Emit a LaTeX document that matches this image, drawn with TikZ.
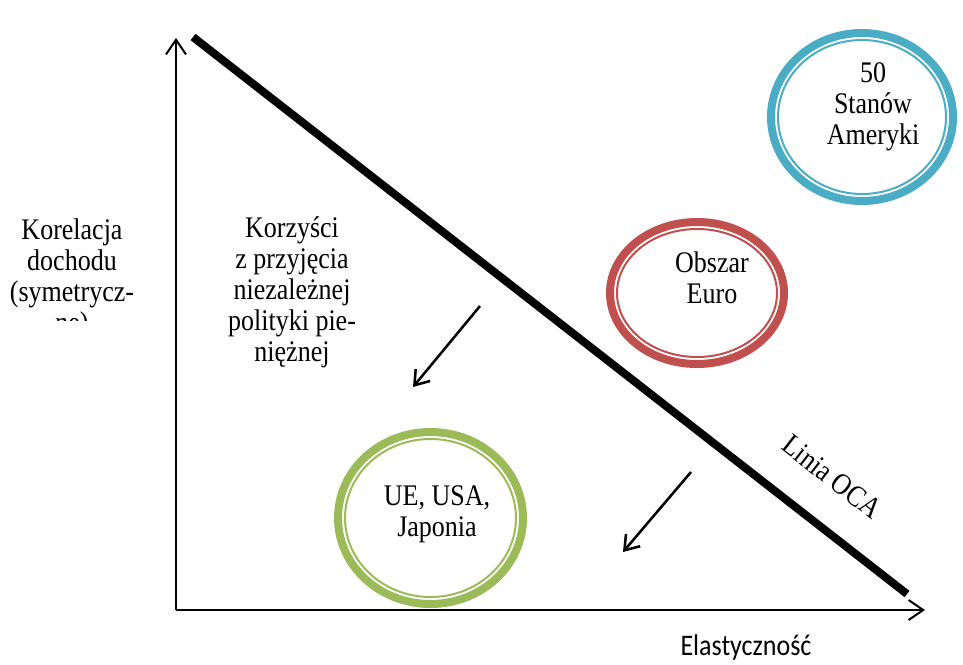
\documentclass[tikz,border=0pt]{standalone}
\usepackage{fontspec}
\usepackage{graphicx}
\setmainfont{Liberation Serif}
\newfontfamily\calibrifont{Carlito}
\usetikzlibrary{arrows.meta,shapes.geometric}
\definecolor{ocablue}{HTML}{4BACC6}
\definecolor{ocared}{HTML}{C0504D}
\definecolor{ocagreen}{HTML}{9BBB59}
\newcommand\mylines[1]{\scalebox{1}[1.15]{\begin{tabular}[t]{@{}c@{}}#1\end{tabular}}}
\newcommand\tallbox[1]{\scalebox{1}[1.15]{#1}}
\begin{document}
\begin{tikzpicture}[x=0.75pt,y=-0.75pt,
  lbl/.style={inner sep=0pt, anchor=base, font=\fontsize{19.5}{20.3}\selectfont},
  axisline/.style={line width=1.5pt, -{Straight Barb[length=11pt,width=15pt,line width=1.5pt]}},
  shiftarrow/.style={line width=1.9pt, -{Straight Barb[length=10pt,width=14pt,line width=1.9pt]}},
  ring/.style={ellipse, draw=#1, line width=6pt, inner sep=0pt},
  thinring/.style={draw=#1, line width=1.5pt}]
\useasboundingbox (0,0) rectangle (963,664);

% axes
\coordinate (O) at (176,610);
\coordinate (ytip) at (176,38);
\coordinate (xtip) at (925,610);
\draw[axisline] (O) -- (ytip);
\draw[axisline] (O) -- (xtip);

% OCA line
\coordinate (ocaA) at (193,37);
\coordinate (ocaB) at (907,594);
\draw[line width=6pt] (ocaA) -- (ocaB);

% circles
\node[ring=ocablue, minimum width=136.5pt, minimum height=126pt] (usa) at (862,117) {};
\draw[thinring=ocablue] (usa.center) ellipse [x radius=63pt, y radius=57.75pt];
\node[ring=ocared, minimum width=130.5pt, minimum height=106.5pt] (euro) at (697,293) {};
\draw[thinring=ocared] (euro.center) ellipse [x radius=60pt, y radius=48pt];
\node[ring=ocagreen, minimum width=138.75pt, minimum height=129pt] (ue) at (430.5,518) {};
\draw[thinring=ocagreen] (ue.center) ellipse [x radius=64.1pt, y radius=59.25pt];

% circle labels
\node[lbl] (usatxt) at (873,82) {\mylines{50\\Stanów\\Ameryki}};
\node[lbl] (eurotxt) at (712,272) {\mylines{Obszar\\Euro}};
\node[lbl] (uetxt) at (437,505) {\mylines{UE, USA,\\Japonia}};

% other labels
\node[lbl] (korzysci) at (292,237) {\mylines{Korzyści\\z przyjęcia\\niezależnej\\polityki pie-\\niężnej}};
\begin{scope}
  \clip (0,0) rectangle (175,320);
  \node[lbl] (korelacja) at (72,239) {\mylines{Korelacja\\dochodu\\(symetrycz-\\ne)}};
\end{scope}
\node[lbl, anchor=center, rotate=-38] (linia) at (832,477) {\tallbox{Linia OCA}};
\node[lbl, font=\calibrifont\fontsize{19.5}{20.3}\selectfont] (elast) at (746,655) {\tallbox{Elastyczność}};

% shift arrows
\coordinate (a1s) at (480,306);
\coordinate (a1e) at (413,387);
\coordinate (a2s) at (691,472);
\coordinate (a2e) at (623,552);
\draw[shiftarrow] (a1s) -- (a1e);
\draw[shiftarrow] (a2s) -- (a2e);
\end{tikzpicture}
\end{document}
